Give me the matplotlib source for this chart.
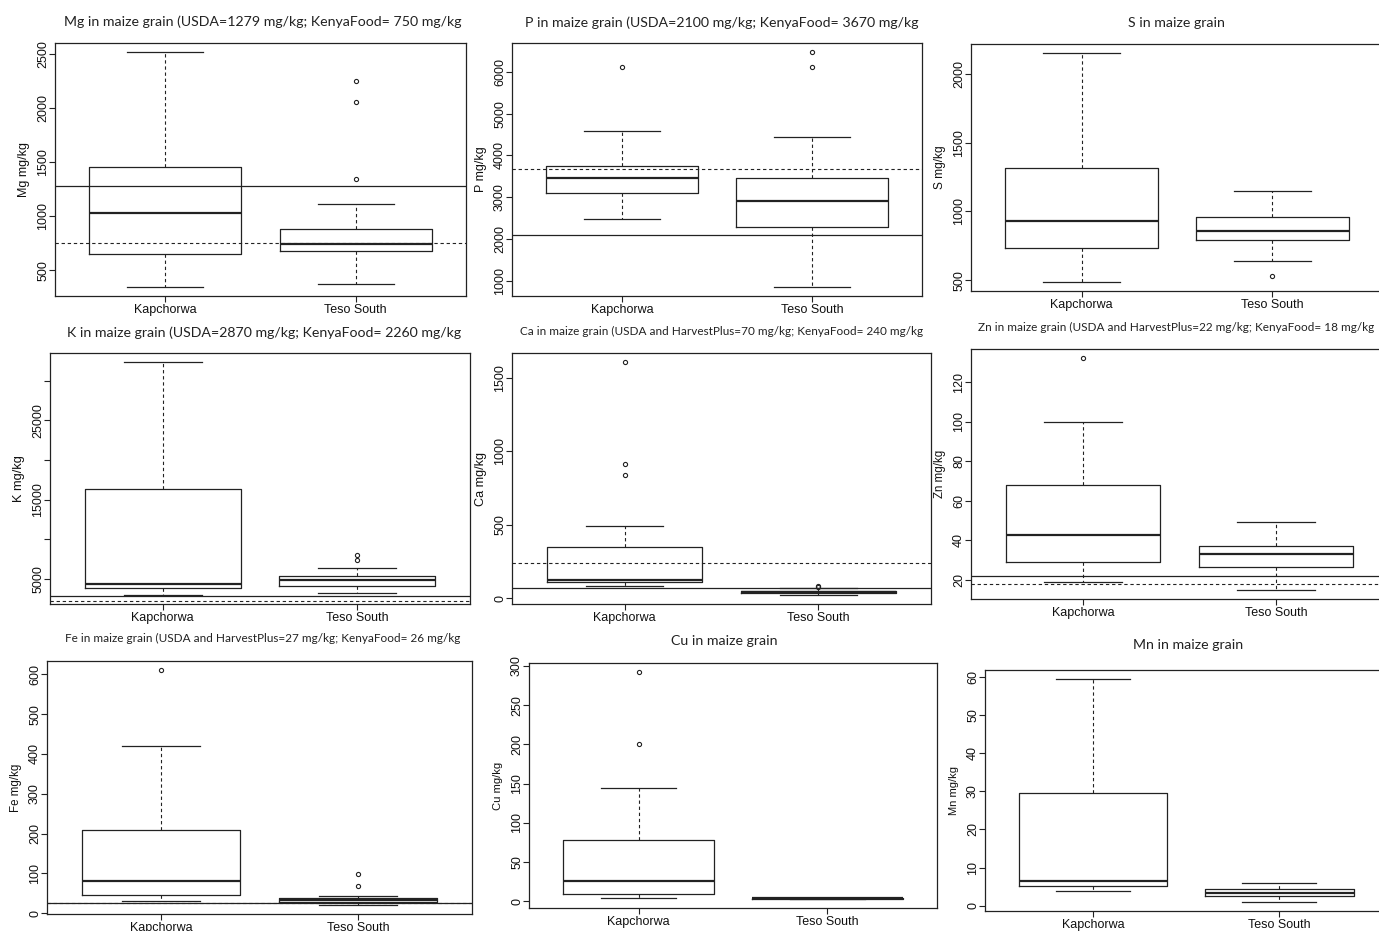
import numpy as np
import matplotlib
matplotlib.use('Agg')
import matplotlib.pyplot as plt
from matplotlib.ticker import MultipleLocator, FuncFormatter

# Panels, left to right and top to bottom
ELEMENTS = ['Mg', 'P', 'S', 'K', 'Ca', 'Zn', 'Fe', 'Cu', 'Mn']
TITLES = [
  'Mg in maize grain (USDA=1279 mg/kg; KenyaFood= 750 mg/kg',
  'P in maize grain (USDA=2100 mg/kg; KenyaFood= 3670 mg/kg',
  'S in maize grain',
  'K in maize grain (USDA=2870 mg/kg; KenyaFood= 2260 mg/kg',
  'Ca in maize grain (USDA and HarvestPlus=70 mg/kg; KenyaFood= 240 mg/kg',
  'Zn in maize grain (USDA and HarvestPlus=22 mg/kg; KenyaFood= 18 mg/kg',
  'Fe in maize grain (USDA and HarvestPlus=27 mg/kg; KenyaFood= 26 mg/kg',
  'Cu in maize grain',
  'Mn in maize grain',
]
SITES = ['Kapchorwa', 'Teso South']

# Box stats (whisker low, Q1, median, Q3, whisker high)
KAP_LOW  = [350, 2480, 488, 3025, 87, 18.8, 30.8, 3.8, 3.85]
KAP_Q1   = [651, 3105, 731, 3823, 109, 29.1, 46.7, 9.8, 5.2]
KAP_MED  = [1034, 3465, 928, 4330, 123, 42.8, 80, 26, 6.6]
KAP_Q3   = [1460, 3744, 1313, 16342, 350, 68, 210, 78.8, 29.5]
KAP_HIGH = [2518, 4584, 2151, 32340, 496, 100, 420, 145, 59.5]
KAP_OUT  = [[], [6105], [], [], [1607, 917, 842], [132.2], [610], [292, 201], []]

TESO_LOW  = [373, 864, 641, 3190, 25, 14.9, 21.7, 3.2, 0.95]
TESO_Q1   = [679, 2289, 791, 4164, 36, 26.6, 28, 3.6, 2.6]
TESO_MED  = [741, 2921, 859, 4873, 44, 32.8, 32.5, 3.9, 3.4]
TESO_Q3   = [883, 3465, 957, 5380, 52, 37.1, 39, 4.1, 4.3]
TESO_HIGH = [1117, 4450, 1146, 6443, 70, 49.1, 43, 4.6, 5.9]
TESO_OUT  = [[1342, 2061, 2250], [6120, 6466], [529], [7456, 8000], [80, 87], [], [67.6, 97.6], [], []]

# Reference values: USDA (solid) and KenyaFood (dashed)
USDA  = [1279, 2100, None, 2870, 70, 22, 27, None, None]
KENYA = [750, 3670, None, 2260, 240, 18, 26, None, None]

TICK_STEP = [500, 1000, 500, 5000, 500, 20, 100, 50, 10]

# Layout in pixels: left, top, right, bottom of each plot region
W, H = 1379, 931
BOXES = [
  (55, 43, 466, 296), (512, 43, 922, 296), (971, 44, 1383, 291),
  (50, 353, 470, 604), (512, 353, 931, 604), (971, 349, 1388, 599),
  (47, 661, 472, 914), (529, 663, 937, 908), (985, 670, 1387, 911),
]
TITLE_POS = [
  (263, 22), (722, 23), (1176, 23),
  (264, 333), (722, 331), (1176, 327),
  (263, 638), (724, 641), (1188, 645),
]
LAB_SIZE = [9, 9, 8.6, 9.2, 9.1, 8.3, 8.3, 8.1, 8]

plt.rcParams['font.family'] = ['Liberation Sans', 'DejaVu Sans']
plt.rcParams['font.size'] = 9
INK = '#222222'

fig = plt.figure(figsize=(W / 100, H / 100), dpi=100)

for i, el in enumerate(ELEMENTS):
  l, t, r, b = BOXES[i]
  ax = fig.add_axes([l / W, 1 - b / H, (r - l) / W, (b - t) / H])

  stats = []
  for lo, q1, med, q3, hi, out in [
      (KAP_LOW[i], KAP_Q1[i], KAP_MED[i], KAP_Q3[i], KAP_HIGH[i], KAP_OUT[i]),
      (TESO_LOW[i], TESO_Q1[i], TESO_MED[i], TESO_Q3[i], TESO_HIGH[i], TESO_OUT[i])]:
    stats.append(dict(whislo=lo, q1=q1, med=med, q3=q3, whishi=hi, fliers=out))

  ax.bxp(stats, positions=[1, 2], widths=0.8, capwidths=0.4,
         boxprops=dict(color=INK, lw=0.9),
         whiskerprops=dict(color=INK, lw=0.8, linestyle=(0, (3, 2.5))),
         capprops=dict(color=INK, lw=0.9),
         medianprops=dict(color=INK, lw=1.6),
         flierprops=dict(marker='o', markersize=3, markerfacecolor='none',
                         markeredgecolor=INK, markeredgewidth=0.8),
         manage_ticks=False)

  # R-style axis ranges: 4% padding around the data
  vals = [KAP_LOW[i], KAP_HIGH[i], TESO_LOW[i], TESO_HIGH[i]] + KAP_OUT[i] + TESO_OUT[i]
  lo, hi = min(vals), max(vals)
  pad = 0.04 * (hi - lo)
  ax.set_ylim(lo - pad, hi + pad)
  ax.set_xlim(0.42, 2.58)

  if USDA[i] is not None:
    ax.axhline(USDA[i], color=INK, lw=0.9, zorder=5)
  if KENYA[i] is not None:
    ax.axhline(KENYA[i], color=INK, lw=0.8, linestyle=(0, (3, 2.5)), zorder=5)

  ax.yaxis.set_major_locator(MultipleLocator(TICK_STEP[i]))
  if el == 'K':
    ax.yaxis.set_major_formatter(FuncFormatter(
      lambda v, p: '%d' % v if (v / 5000) % 2 == 1 else ''))
  else:
    ax.yaxis.set_major_formatter(FuncFormatter(lambda v, p: '%g' % v))
  ax.set_xticks([1, 2])
  ax.set_xticklabels(SITES)
  ax.tick_params(axis='both', direction='out', length=4, width=0.8, color=INK,
                 labelsize=9, labelcolor='#111111')
  ax.tick_params(axis='y', pad=0.3, labelrotation=90)
  ax.tick_params(axis='x', pad=1.5)
  for tl in ax.get_yticklabels():
    tl.set_va('center')
  ax.set_ylabel(el + ' mg/kg', fontsize=LAB_SIZE[i], color='#111111', va='center')
  ax.yaxis.set_label_coords(-31.0 / (r - l), 0.5)
  for s in ax.spines.values():
    s.set_color(INK)
    s.set_linewidth(0.9)

  # Titles sit above each panel
  tx, ty = TITLE_POS[i]
  fs = 10.2 if len(TITLES[i]) < 60 else 8.45
  fig.text(tx / W, 1 - ty / H, TITLES[i], ha='center', va='center',
           fontsize=fs, family=['Lato', 'DejaVu Sans'], color='#222222')

fig.savefig('out.png', dpi=100)
